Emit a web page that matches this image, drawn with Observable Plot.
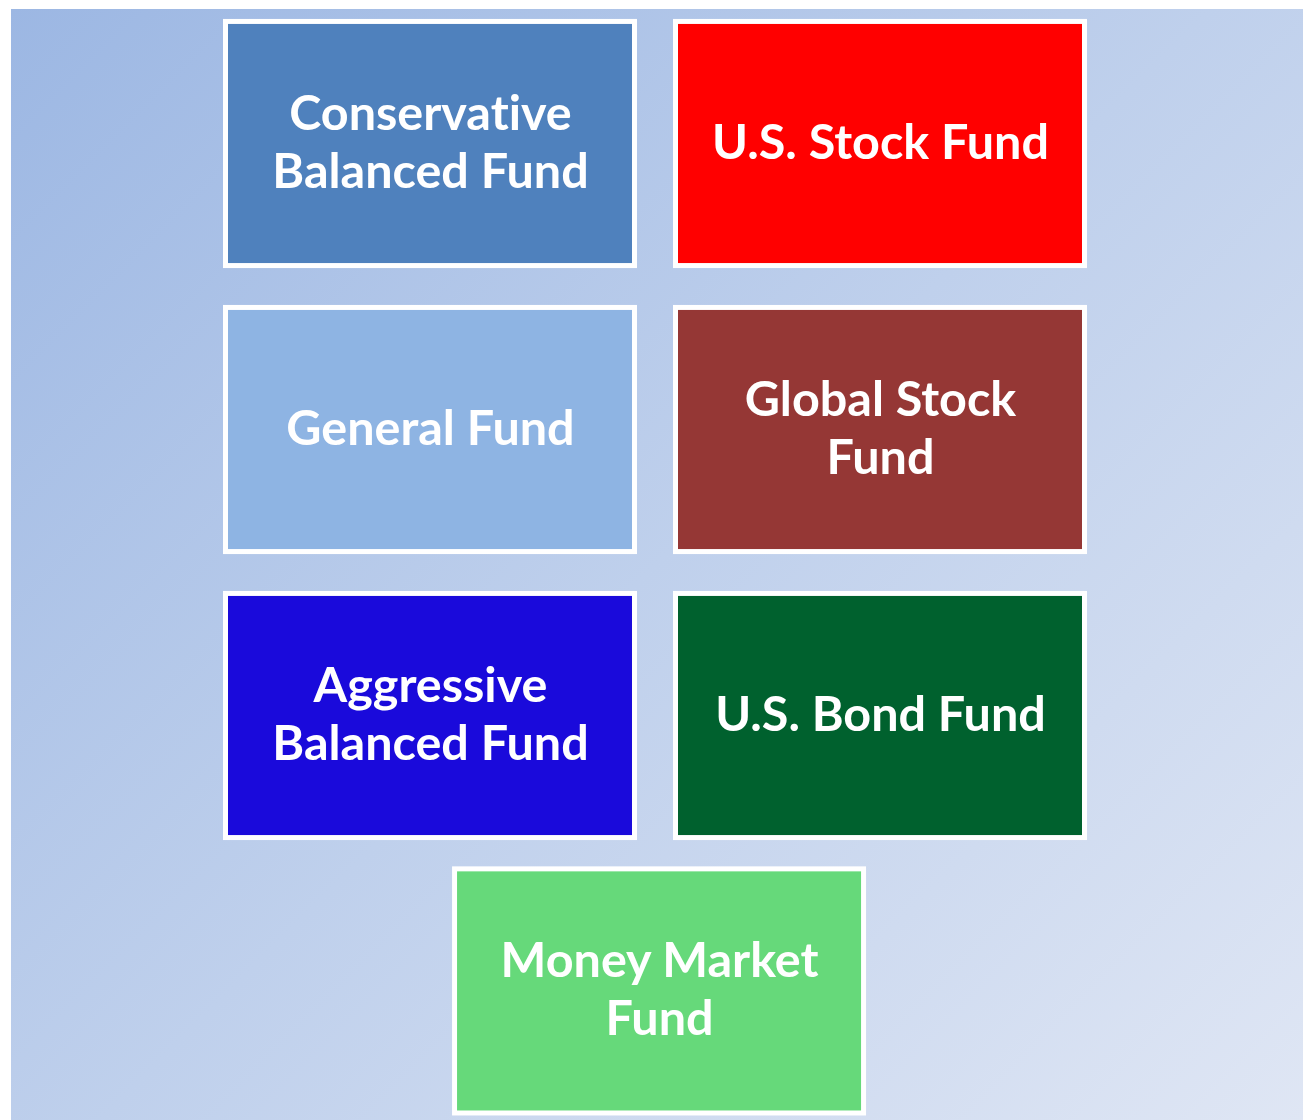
<!DOCTYPE html>
<html>
<head>
<meta charset="utf-8">
<script src="https://cdn.jsdelivr.net/npm/d3@7"></script>
<script src="https://cdn.jsdelivr.net/npm/@observablehq/plot@0.6"></script>
<style>
  html, body { margin: 0; padding: 0; background: #ffffff; }
  #bg {
    position: absolute; left: 11px; top: 9px; width: 1292px; height: 1111px;
    background: linear-gradient(135deg, #9cb7e3 0%, #bfd0ec 50%, #dfe6f4 100%);
    overflow: hidden;
  }
  #bg svg text { font-variant-ligatures: none; font-feature-settings: "liga" 0; }
</style>
</head>
<body>
<div id="bg"></div>
<script>
// Data
const funds = [
  "Conservative\nBalanced Fund",
  "U.S. Stock Fund",
  "General Fund",
  "Global Stock\nFund",
  "Aggressive\nBalanced Fund",
  "U.S. Bond Fund",
  "Money Market\nFund"
];
const fundColors = ["#4f81bd", "#ff0000", "#8eb4e3", "#953735", "#1a0adb", "#00612e", "#66d97a"];
const columns = [0, 1, 0, 1, 0, 1, 0.509];
const rows = [0, 0, 1, 1, 2, 2, 2.963];

const boxW = 0.92;   // box width in column units
const boxH = 0.871;  // box height in row units

const data = funds.map((name, i) => ({name, color: fundColors[i], col: columns[i], row: rows[i]}));

const chart = Plot.plot({
  width: 1292,
  height: 1111,
  margin: 0,
  style: {background: "transparent", overflow: "visible"},
  x: {domain: [0, 1], range: [419, 869], axis: null},
  y: {domain: [0, 3], range: [134.5, 992.5], axis: null},
  marks: [
    Plot.rect(data, {
      x1: d => d.col - boxW / 2, x2: d => d.col + boxW / 2,
      y1: d => d.row - boxH / 2, y2: d => d.row + boxH / 2,
      fill: "#ffffff"
    }),
    Plot.rect(data, {
      x1: d => d.col - boxW / 2, x2: d => d.col + boxW / 2,
      y1: d => d.row - boxH / 2, y2: d => d.row + boxH / 2,
      fill: d => d.color, inset: 5
    }),
    Plot.text(data, {
      x: "col", y: "row", text: "name",
      fill: "#ffffff", fontSize: 48.5, fontWeight: "bold",
      fontFamily: "Lato", lineHeight: 1.2, textAnchor: "middle", dy: -4
    })
  ]
});
document.getElementById("bg").appendChild(chart);
</script>
</body>
</html>
